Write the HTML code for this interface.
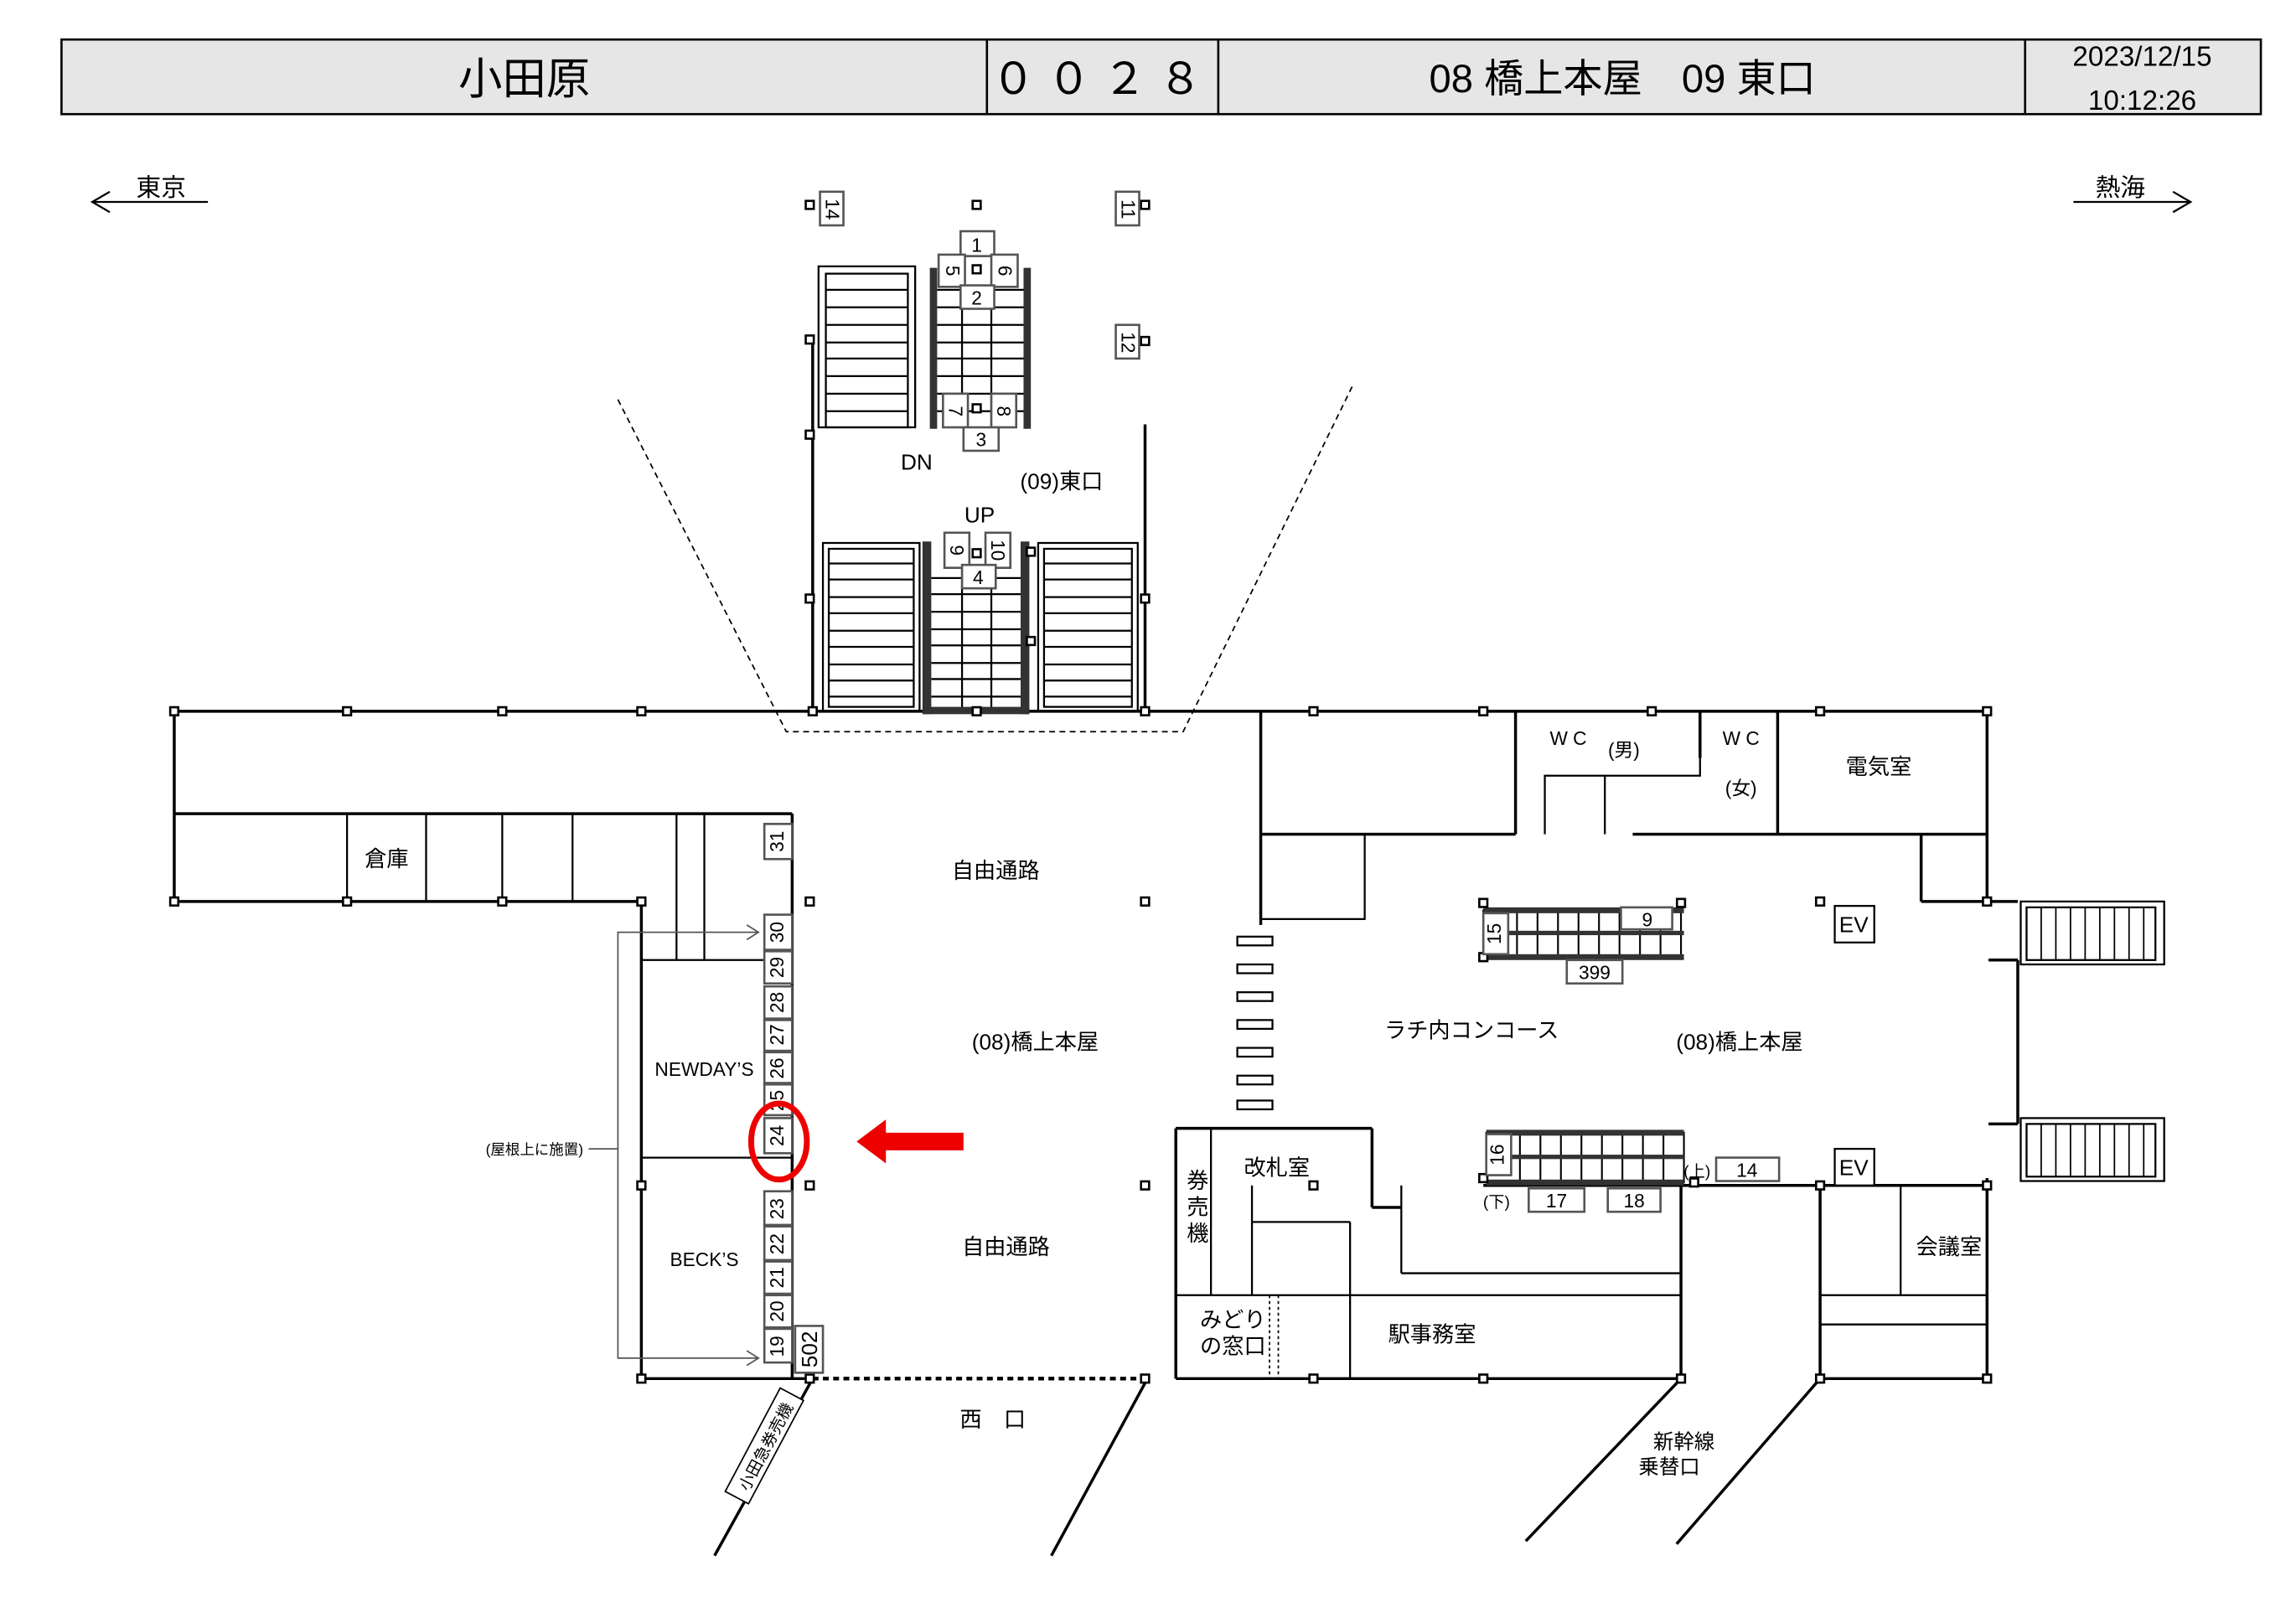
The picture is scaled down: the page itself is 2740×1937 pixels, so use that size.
<!DOCTYPE html>
<html><head><meta charset="utf-8"><style>
html,body{margin:0;padding:0;background:#fff}
svg{display:block}
text{font-family:"Liberation Sans","Noto Sans CJK JP",sans-serif;fill:#000}
</style></head><body>
<svg width="2740" height="1937" viewBox="0 0 1568 1109" preserveAspectRatio="none" xmlns="http://www.w3.org/2000/svg">
<defs>
<g id="p"><rect x="-3.5" y="-3.5" width="7" height="7" fill="#000"/><rect x="-2" y="-2" width="4" height="4" fill="#fff"/></g>
</defs>
<rect x="42" y="27" width="1502" height="51" fill="#e6e6e6" stroke="#000" stroke-width="1.5"/>
<g stroke="#000" stroke-width="1.5"><line x1="674" y1="27" x2="674" y2="78"/><line x1="832" y1="27" x2="832" y2="78"/><line x1="1383" y1="27" x2="1383" y2="78"/></g>
<text x="358" y="64" font-size="30" text-anchor="middle">小田原</text>
<text x="753" y="64" font-size="30" text-anchor="middle" letter-spacing="8">００２８</text>
<text x="1108" y="63" font-size="27" text-anchor="middle">08  橋上本屋　09  東口</text>
<text x="1463" y="45" font-size="19" text-anchor="middle">2023/12/15</text>
<text x="1463" y="75" font-size="19" text-anchor="middle">10:12:26</text>
<g stroke="#000" stroke-width="1.3" fill="none">
<line x1="63" y1="138" x2="142" y2="138"/><polyline points="75,131 63,138 75,145"/>
<line x1="1416" y1="138" x2="1496" y2="138"/><polyline points="1484,131 1496,138 1484,145"/>
</g>
<text x="110" y="134" font-size="17" text-anchor="middle">東京</text>
<text x="1448" y="134" font-size="17" text-anchor="middle">熱海</text>
<polyline points="422,273 537,500 808,500 924,263" fill="none" stroke="#000" stroke-width="1" stroke-dasharray="4,3"/>
<g stroke="#000" stroke-width="2" fill="none">
<line x1="119" y1="486" x2="1357" y2="486"/>
<line x1="119" y1="486" x2="119" y2="616"/>
<line x1="119" y1="556" x2="541" y2="556"/>
<line x1="119" y1="616" x2="438" y2="616"/>
<line x1="541" y1="556" x2="541" y2="942"/>
<line x1="438" y1="616" x2="438" y2="942"/>
<line x1="438" y1="942" x2="555" y2="942"/>
<line x1="555" y1="232" x2="555" y2="486"/>
<line x1="782" y1="290" x2="782" y2="486"/>
<line x1="861" y1="486" x2="861" y2="632"/>
<line x1="861" y1="570" x2="1035" y2="570"/>
<line x1="1035" y1="486" x2="1035" y2="570"/>
<line x1="1115" y1="570" x2="1357" y2="570"/>
<line x1="1161" y1="486" x2="1161" y2="518"/>
<line x1="1214" y1="486" x2="1214" y2="570"/>
<line x1="1312" y1="570" x2="1312" y2="616"/>
<line x1="1312" y1="616" x2="1378" y2="616"/>
<line x1="1357" y1="486" x2="1357" y2="616"/>
<line x1="1357" y1="805" x2="1357" y2="942"/>
<line x1="1378" y1="656" x2="1378" y2="768"/>
<line x1="1378" y1="656" x2="1358" y2="656"/><line x1="1378" y1="768" x2="1358" y2="768"/>
<line x1="803" y1="771" x2="937" y2="771"/>
<line x1="937" y1="771" x2="937" y2="825"/>
<line x1="937" y1="825" x2="957" y2="825"/>
<line x1="803" y1="771" x2="803" y2="942"/>
<line x1="803" y1="942" x2="1148" y2="942"/>
<line x1="1013" y1="810" x2="1357" y2="810"/>
<line x1="1148" y1="810" x2="1148" y2="942"/>
<line x1="1243" y1="810" x2="1243" y2="942"/>
<line x1="1243" y1="942" x2="1357" y2="942"/>
<line x1="555" y1="942" x2="488" y2="1063"/>
<line x1="782" y1="945" x2="718" y2="1063"/>
<line x1="1148" y1="942" x2="1042" y2="1053"/>
<line x1="1243" y1="942" x2="1145" y2="1055"/>
</g>
<g stroke="#000" stroke-width="1.3" fill="none">
<line x1="237" y1="556" x2="237" y2="616"/><line x1="291" y1="556" x2="291" y2="616"/><line x1="343" y1="556" x2="343" y2="616"/><line x1="391" y1="556" x2="391" y2="616"/>
<line x1="462" y1="556" x2="462" y2="656"/><line x1="481" y1="556" x2="481" y2="656"/>
<line x1="438" y1="656" x2="541" y2="656"/><line x1="438" y1="791" x2="541" y2="791"/>
<rect x="861" y="570" width="71" height="58"/>
<polyline points="1055,570 1055,530 1161,530 1161,518"/><line x1="1096" y1="530" x2="1096" y2="570"/>
<line x1="827" y1="771" x2="827" y2="885"/><line x1="855" y1="810" x2="855" y2="885"/>
<line x1="855" y1="835" x2="922" y2="835"/><line x1="922" y1="835" x2="922" y2="942"/>
<line x1="803" y1="885" x2="1148" y2="885"/>
<line x1="957" y1="810" x2="957" y2="870"/><line x1="957" y1="870" x2="1148" y2="870"/>
<line x1="1298" y1="810" x2="1298" y2="885"/><line x1="1243" y1="885" x2="1357" y2="885"/><line x1="1243" y1="905" x2="1357" y2="905"/>
</g>
<line x1="867" y1="885" x2="867" y2="942" stroke="#000" stroke-dasharray="2,2"/>
<line x1="873" y1="885" x2="873" y2="942" stroke="#000" stroke-dasharray="2,2"/>
<line x1="555" y1="942" x2="782" y2="942" stroke="#000" stroke-width="2.5" stroke-dasharray="4,3"/>
<g stroke="#000" stroke-width="1.3" fill="none">
<rect x="1380" y="616" width="98" height="43"/><rect x="1384" y="620" width="88" height="36"/>
<rect x="1380" y="764" width="98" height="43"/><rect x="1384" y="768" width="88" height="36"/>
</g>
<g stroke="#000" stroke-width="1">
<path d="M1394 620V656M1404 620V656M1414 620V656M1424 620V656M1434 620V656M1444 620V656M1454 620V656M1464 620V656"/>
<path d="M1394 768V804M1404 768V804M1414 768V804M1424 768V804M1434 768V804M1444 768V804M1454 768V804M1464 768V804"/>
</g>
<g fill="#fff" stroke="#000" stroke-width="1.3">
<rect x="845" y="640" width="24" height="6"/><rect x="845" y="659" width="24" height="6"/><rect x="845" y="678" width="24" height="6"/><rect x="845" y="697" width="24" height="6"/><rect x="845" y="716" width="24" height="6"/><rect x="845" y="735" width="24" height="6"/><rect x="845" y="752" width="24" height="6"/>
</g>
<g stroke="#000" stroke-width="1.3" fill="none">
<rect x="559" y="182" width="66" height="110"/><rect x="564" y="187" width="56" height="105"/>
<path d="M564 198H620M564 210H620M564 222H620M564 234H620M564 245H620M564 257H620M564 269H620M564 281H620"/>
<rect x="562" y="371" width="66" height="115"/><rect x="566" y="375" width="58" height="108"/>
<path d="M566 385H624M566 396H624M566 408H624M566 419H624M566 431H624M566 442H624M566 454H624M566 465H624M566 476H624"/>
<rect x="709" y="371" width="68" height="115"/><rect x="713" y="375" width="60" height="108"/>
<path d="M713 385H773M713 396H773M713 408H773M713 419H773M713 431H773M713 442H773M713 454H773M713 465H773M713 476H773"/>
<path d="M640 198H700M640 210H700M640 222H700M640 234H700M640 245H700M640 257H700M640 269H700M640 281H700"/>
<path d="M636 395H698M636 406H698M636 418H698M636 430H698M636 441H698M636 453H698M636 464H698M636 476H698"/>
<line x1="657" y1="200" x2="657" y2="292"/><line x1="677" y1="200" x2="677" y2="292"/>
<line x1="657" y1="400" x2="657" y2="486"/><line x1="677" y1="400" x2="677" y2="486"/>
</g>
<g fill="#333">
<rect x="635" y="183" width="5" height="110"/><rect x="699" y="183" width="5" height="110"/>
<rect x="630" y="370" width="6" height="118"/><rect x="697" y="370" width="6" height="118"/>
<rect x="630" y="483" width="73" height="5"/>
</g>
<g stroke="#000" stroke-width="1.2" fill="none">
<rect x="1013" y="622" width="135" height="32"/><line x1="1013" y1="638" x2="1150" y2="638"/>
<path d="M1036 622V654M1050 622V654M1064 622V654M1078 622V654M1092 622V654M1106 622V654M1120 622V654M1134 622V654"/>
<rect x="1015" y="774" width="135" height="34"/><line x1="1015" y1="791" x2="1150" y2="791"/>
<path d="M1038 774V808M1052 774V808M1066 774V808M1080 774V808M1094 774V808M1108 774V808M1122 774V808M1136 774V808"/>
</g>
<g fill="#333"><rect x="1013" y="620" width="137" height="4"/><rect x="1013" y="652" width="137" height="4"/><rect x="1015" y="772" width="135" height="4"/><rect x="1015" y="806" width="135" height="4"/><rect x="1015" y="789" width="135" height="3"/><rect x="1013" y="636" width="137" height="3"/></g>
<g>
<use href="#p" x="119" y="486"/><use href="#p" x="237" y="486"/><use href="#p" x="343" y="486"/><use href="#p" x="438" y="486"/><use href="#p" x="555" y="486"/><use href="#p" x="782" y="486"/><use href="#p" x="897" y="486"/><use href="#p" x="1013" y="486"/><use href="#p" x="1128" y="486"/><use href="#p" x="1243" y="486"/><use href="#p" x="1357" y="486"/>
<use href="#p" x="119" y="616"/><use href="#p" x="237" y="616"/><use href="#p" x="343" y="616"/><use href="#p" x="438" y="616"/><use href="#p" x="553" y="616"/><use href="#p" x="782" y="616"/><use href="#p" x="1357" y="616"/><use href="#p" x="1243" y="616"/>
<use href="#p" x="438" y="810"/><use href="#p" x="553" y="810"/><use href="#p" x="782" y="810"/><use href="#p" x="897" y="810"/><use href="#p" x="1243" y="810"/><use href="#p" x="1357" y="810"/><use href="#p" x="1013" y="805"/><use href="#p" x="1157" y="808"/>
<use href="#p" x="438" y="942"/><use href="#p" x="553" y="942"/><use href="#p" x="782" y="942"/><use href="#p" x="897" y="942"/><use href="#p" x="1013" y="942"/><use href="#p" x="1148" y="942"/><use href="#p" x="1243" y="942"/><use href="#p" x="1357" y="942"/>
<use href="#p" x="553" y="140"/><use href="#p" x="667" y="140"/><use href="#p" x="782" y="140"/><use href="#p" x="553" y="232"/><use href="#p" x="782" y="233"/><use href="#p" x="553" y="297"/><use href="#p" x="553" y="409"/><use href="#p" x="782" y="409"/><use href="#p" x="667" y="184"/><use href="#p" x="667" y="279"/><use href="#p" x="667" y="378"/><use href="#p" x="667" y="486"/><use href="#p" x="704" y="377"/><use href="#p" x="704" y="438"/>
<use href="#p" x="1013" y="617"/><use href="#p" x="1148" y="617"/><use href="#p" x="1013" y="654"/>
</g>
<g fill="#fff" stroke="#555" stroke-width="1.5">
<rect x="656" y="158" width="23" height="17"/><rect x="641" y="174" width="18" height="22"/><rect x="677" y="174" width="18" height="22"/><rect x="656" y="195" width="23" height="16"/>
<rect x="644" y="269" width="17" height="23"/><rect x="677" y="269" width="17" height="23"/><rect x="658" y="292" width="24" height="16"/>
<rect x="645" y="364" width="17" height="24"/><rect x="673" y="364" width="17" height="24"/><rect x="657" y="386" width="23" height="16"/>
<rect x="560" y="131" width="16" height="23"/><rect x="762" y="131" width="16" height="23"/><rect x="762" y="222" width="16" height="23"/>
<rect x="522" y="563" width="19" height="24"/><rect x="522" y="625" width="19" height="24"/><rect x="522" y="650" width="19" height="22"/><rect x="522" y="674" width="19" height="22"/><rect x="522" y="697" width="19" height="21"/><rect x="522" y="719" width="19" height="21"/><rect x="522" y="741" width="19" height="21"/><rect x="522" y="764" width="19" height="24"/>
<rect x="522" y="814" width="19" height="23"/><rect x="522" y="838" width="19" height="23"/><rect x="522" y="862" width="19" height="22"/><rect x="522" y="885" width="19" height="22"/><rect x="522" y="908" width="19" height="23"/>
<rect x="543" y="906" width="19" height="32"/>
<rect x="1013" y="624" width="17" height="28"/><rect x="1107" y="620" width="35" height="15"/><rect x="1070" y="656" width="38" height="16"/>
<rect x="1015" y="775" width="17" height="28"/><rect x="1044" y="812" width="38" height="16"/><rect x="1098" y="812" width="36" height="16"/><rect x="1172" y="791" width="43" height="16"/>
</g>
<g stroke="#000" stroke-width="1.3" fill="#fff"><rect x="1253" y="619" width="27" height="25"/><rect x="1253" y="785" width="27" height="25"/></g>
<g font-size="13" text-anchor="middle">
<text x="667" y="172">1</text><text x="667" y="208">2</text><text x="670" y="305">3</text><text x="668" y="399">4</text>
<text x="1125" y="633">9</text><text x="1089" y="669">399</text><text x="1063" y="825">17</text><text x="1116" y="825">18</text><text x="1193" y="804">14</text>
<text x="1266" y="637" font-size="15">EV</text><text x="1266" y="803" font-size="15">EV</text>
<text x="1022" y="825" font-size="11">(下)</text><text x="1159" y="804" font-size="11">(上)</text>
</g>
<g font-size="13" text-anchor="middle">
<text transform="translate(650,185) rotate(90)" dy="4">5</text>
<text transform="translate(686,185) rotate(90)" dy="4">6</text>
<text transform="translate(652,281) rotate(90)" dy="4">7</text>
<text transform="translate(685,281) rotate(90)" dy="4">8</text>
<text transform="translate(653,376) rotate(90)" dy="4">9</text>
<text transform="translate(681,376) rotate(90)" dy="4">10</text>
<text transform="translate(568,143) rotate(90)" dy="4">14</text>
<text transform="translate(770,143) rotate(90)" dy="4">11</text>
<text transform="translate(770,234) rotate(90)" dy="4">12</text>
<text transform="translate(531,575) rotate(-90)" dy="4">31</text>
<text transform="translate(531,637) rotate(-90)" dy="4">30</text>
<text transform="translate(531,661) rotate(-90)" dy="4">29</text>
<text transform="translate(531,685) rotate(-90)" dy="4">28</text>
<text transform="translate(531,707) rotate(-90)" dy="4">27</text>
<text transform="translate(531,730) rotate(-90)" dy="4">26</text>
<text transform="translate(531,752) rotate(-90)" dy="4">25</text>
<text transform="translate(531,776) rotate(-90)" dy="4">24</text>
<text transform="translate(531,826) rotate(-90)" dy="4">23</text>
<text transform="translate(531,850) rotate(-90)" dy="4">22</text>
<text transform="translate(531,873) rotate(-90)" dy="4">21</text>
<text transform="translate(531,896) rotate(-90)" dy="4">20</text>
<text transform="translate(531,920) rotate(-90)" dy="4">19</text>
<text transform="translate(553,922) rotate(-90)" dy="5" font-size="15">502</text>
<text transform="translate(1021,638) rotate(-90)" dy="4">15</text>
<text transform="translate(1023,789) rotate(-90)" dy="4">16</text>
</g>
<g stroke="#555" stroke-width="1" fill="none">
<polyline points="517,637 422,637 422,928 517,928"/><polyline points="510,632 518,637 510,642"/><polyline points="510,923 518,928 510,933"/>
<line x1="402" y1="785" x2="422" y2="785"/>
</g>
<text x="365" y="789" font-size="10" text-anchor="middle">(屋根上に施置)</text>
<g transform="translate(522,988) rotate(-62)">
<rect x="-40" y="-9" width="80" height="18" fill="#fff" stroke="#000" stroke-width="1"/>
<text x="0" y="5" font-size="11" text-anchor="middle">小田急券売機</text>
</g>
<g font-size="15" text-anchor="middle">
<text x="264" y="592">倉庫</text>
<text x="680" y="600">自由通路</text>
<text x="687" y="857">自由通路</text>
<text x="707" y="717">(08)橋上本屋</text>
<text x="1005" y="709">ラチ内コンコース</text>
<text x="1188" y="717">(08)橋上本屋</text>
<text x="725" y="334">(09)東口</text>
<text x="626" y="321">DN</text>
<text x="669" y="357">UP</text>
<text x="481" y="735" font-size="13">NEWDAY’S</text>
<text x="481" y="865" font-size="13">BECK’S</text>
<text x="1283" y="529">電気室</text>
<text x="1071" y="509" font-size="13">W C</text><text x="1109" y="517" font-size="13">(男)</text>
<text x="1189" y="509" font-size="13">W C</text><text x="1189" y="543" font-size="13">(女)</text>
<text x="872" y="803">改札室</text>
<text x="818" y="812">券</text><text x="818" y="830">売</text><text x="818" y="848">機</text>
<text x="842" y="907">みどり</text><text x="842" y="925">の窓口</text>
<text x="978" y="917">駅事務室</text>
<text x="1331" y="857">会議室</text>
<text x="678" y="975">西　口</text>
<text x="1150" y="990" font-size="14">新幹線</text><text x="1140" y="1007" font-size="14">乗替口</text>
</g>
<ellipse cx="532" cy="780" rx="19" ry="26" fill="none" stroke="#e00" stroke-width="4"/>
<polygon points="585,780 605,765 605,774 658,774 658,786 605,786 605,795" fill="#e00"/>
</svg>
</body></html>
